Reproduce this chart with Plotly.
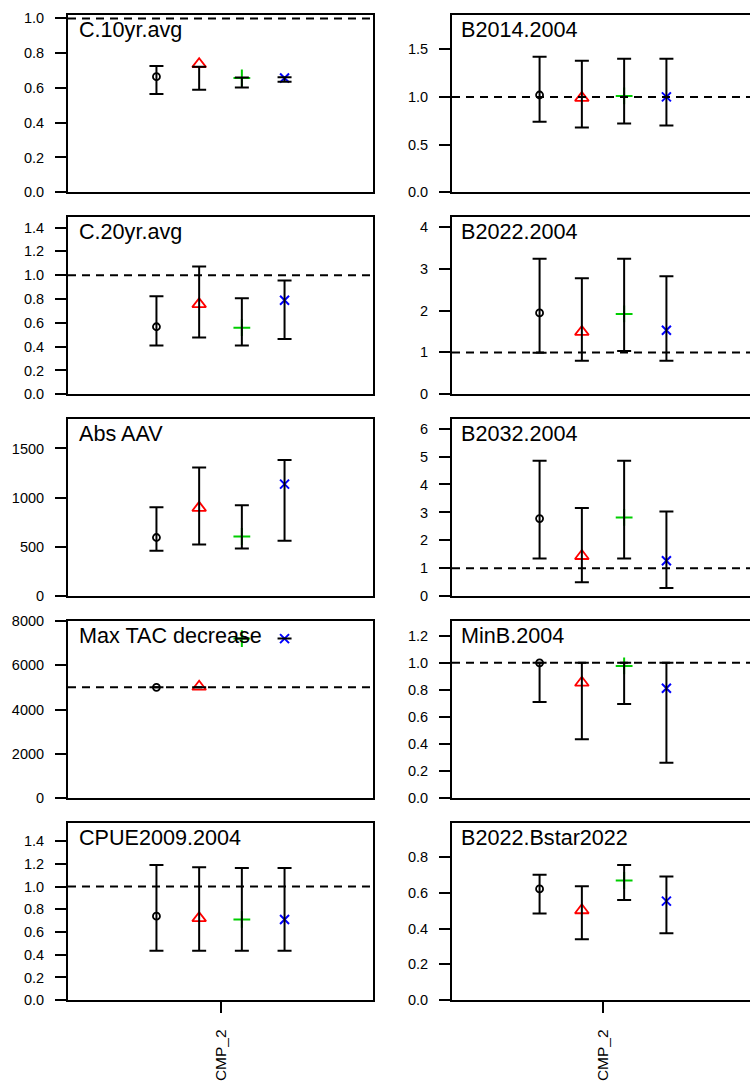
import plotly.graph_objects as go

# ---------------- data ----------------
panel_titles = ["C.10yr.avg", "C.20yr.avg", "Abs AAV", "Max TAC decrease", "CPUE2009.2004",
                "B2014.2004", "B2022.2004", "B2032.2004", "MinB.2004", "B2022.Bstar2022"]
category = "CMP_2"

# point values per series (black circle, red triangle, green plus, blue x)
s1_mid = [0.665, 0.567, 596, 5000, 0.739, 1.02, 1.945, 2.78, 1.00, 0.621]
s2_mid = [0.737, 0.757, 897, 5030, 0.722, 0.99, 1.49, 1.44, 0.853, 0.502]
s3_mid = [0.657, 0.559, 606, 7200, 0.710, 1.01, 1.92, 2.82, 0.977, 0.668]
s4_mid = [0.657, 0.790, 1138, 7200, 0.710, 1.00, 1.53, 1.27, 0.812, 0.553]

s1_lo = [0.565, 0.410, 462, 5000, 0.436, 0.74, 0.99, 1.35, 0.710, 0.484]
s2_lo = [0.590, 0.477, 526, 5000, 0.436, 0.68, 0.80, 0.50, 0.436, 0.340]
s3_lo = [0.603, 0.410, 485, 7200, 0.436, 0.72, 1.035, 1.35, 0.696, 0.559]
s4_lo = [0.635, 0.463, 562, 7200, 0.436, 0.70, 0.80, 0.29, 0.262, 0.374]

s1_hi = [0.726, 0.824, 904, 5000, 1.190, 1.42, 3.24, 4.85, 1.00, 0.700]
s2_hi = [0.722, 1.074, 1306, 5000, 1.170, 1.38, 2.77, 3.16, 1.00, 0.636]
s3_hi = [0.660, 0.807, 924, 7200, 1.163, 1.40, 3.24, 4.85, 1.00, 0.754]
s4_hi = [0.662, 0.956, 1383, 7200, 1.163, 1.40, 2.82, 3.03, 1.00, 0.690]

ref_lines = [1, 1, None, 5000, 1, 1, 1, 1, 1, None]
y_max = [1.02, 1.49, 1800, 8000, 1.56, 1.86, 4.24, 6.35, 1.31, 0.99]
y_dtick = [0.2, 0.2, 500, 2000, 0.2, 0.5, 1, 1, 0.2, 0.2]

# ---------------- styling ----------------
W, H = 750, 1088
series = [
    dict(mid=s1_mid, lo=s1_lo, hi=s1_hi, color="black", symbol="circle-open", size=7, lw=1.8),
    dict(mid=s2_mid, lo=s2_lo, hi=s2_hi, color="#FF0000", symbol="triangle-up-open", size=12, lw=1.8),
    dict(mid=s3_mid, lo=s3_lo, hi=s3_hi, color="#00CD00", symbol="cross-thin", size=12, lw=2),
    dict(mid=s4_mid, lo=s4_lo, hi=s4_hi, color="#0000FF", symbol="x-thin", size=9, lw=2),
]
offsets = [-0.21, -0.07, 0.07, 0.21]

fig = go.Figure()
font_family = "Liberation Sans, Arial, sans-serif"

for p in range(10):
    col = p // 5
    row = p % 5
    k = p + 1
    xname = "xaxis" if k == 1 else f"xaxis{k}"
    yname = "yaxis" if k == 1 else f"yaxis{k}"
    xr = "x" if k == 1 else f"x{k}"
    yr = "y" if k == 1 else f"y{k}"

    top_px = 7 + 205 * row
    bot_px = top_px + 180
    if col == 0:
        left_px, right_px = 68, 373
        xrange = [0.5, 1.5]
    else:
        left_px, right_px = 452, 750
        xrange = [0.5, 0.5 + 298 / 302]

    xdom = [left_px / W, right_px / W]
    ydom = [1 - bot_px / H, 1 - top_px / H]

    # markers first
    for si, s in enumerate(series):
        m = s["mid"][p]
        fig.add_trace(go.Scatter(
            x=[1 + offsets[si]], y=[m], mode="markers", xaxis=xr, yaxis=yr,
            showlegend=False, hoverinfo="skip",
            marker=dict(symbol=s["symbol"], size=s["size"], color=s["color"],
                        line=dict(color=s["color"], width=s["lw"])),
        ))
    # error bars drawn on top (as in the reference)
    for si, s in enumerate(series):
        m = s["mid"][p]
        fig.add_trace(go.Scatter(
            x=[1 + offsets[si]], y=[m], mode="markers", xaxis=xr, yaxis=yr,
            showlegend=False,
            marker=dict(size=1, color="rgba(0,0,0,0)"),
            error_y=dict(type="data", symmetric=False,
                         array=[s["hi"][p] - m], arrayminus=[m - s["lo"][p]],
                         color="black", thickness=2, width=7),
        ))

    is_bottom = row == 4
    fig.layout[xname] = dict(
        domain=xdom, anchor=yr, range=xrange, showgrid=False, zeroline=False,
        showline=True, linecolor="black", linewidth=2, mirror=True,
        tickmode="array", tickvals=[1] if is_bottom else [],
        ticktext=[category] if is_bottom else [],
        ticks="outside" if is_bottom else "", ticklen=11, tickwidth=2, tickcolor="black",
        showticklabels=is_bottom, tickangle=-90, ticklabelstandoff=10,
        tickfont=dict(family=font_family, size=15.5, color="black"),
        fixedrange=True,
    )
    fig.layout[yname] = dict(
        domain=ydom, anchor=xr, range=[0, y_max[p]], showgrid=False, zeroline=False,
        showline=True, linecolor="black", linewidth=2, mirror=(col == 0),
        tickmode="linear", tick0=0, dtick=y_dtick[p],
        tickformat=".1f" if y_dtick[p] < 1 else "d",
        ticks="outside", ticklen=11, tickwidth=2, tickcolor="black",
        ticklabelstandoff=8,
        tickfont=dict(family=font_family, size=14.5, color="black"),
        fixedrange=True,
    )

    if ref_lines[p] is not None:
        fig.add_shape(type="line", xref=f"{xr} domain", yref=yr, x0=0, x1=1,
                      y0=ref_lines[p], y1=ref_lines[p],
                      line=dict(color="black", width=2, dash="8px,6px"))

    fig.add_annotation(text=panel_titles[p], xref=f"{xr} domain", yref=f"{yr} domain",
                       x=(9 if col == 0 else 7) / (right_px - left_px), y=1 - 15 / 180,
                       xanchor="left", yanchor="middle", showarrow=False,
                       font=dict(family=font_family, size=21.6, color="black"))

fig.update_layout(width=W, height=H, margin=dict(l=0, r=0, t=0, b=0),
                  plot_bgcolor="white", paper_bgcolor="white", showlegend=False)

fig.write_html("out.html")
